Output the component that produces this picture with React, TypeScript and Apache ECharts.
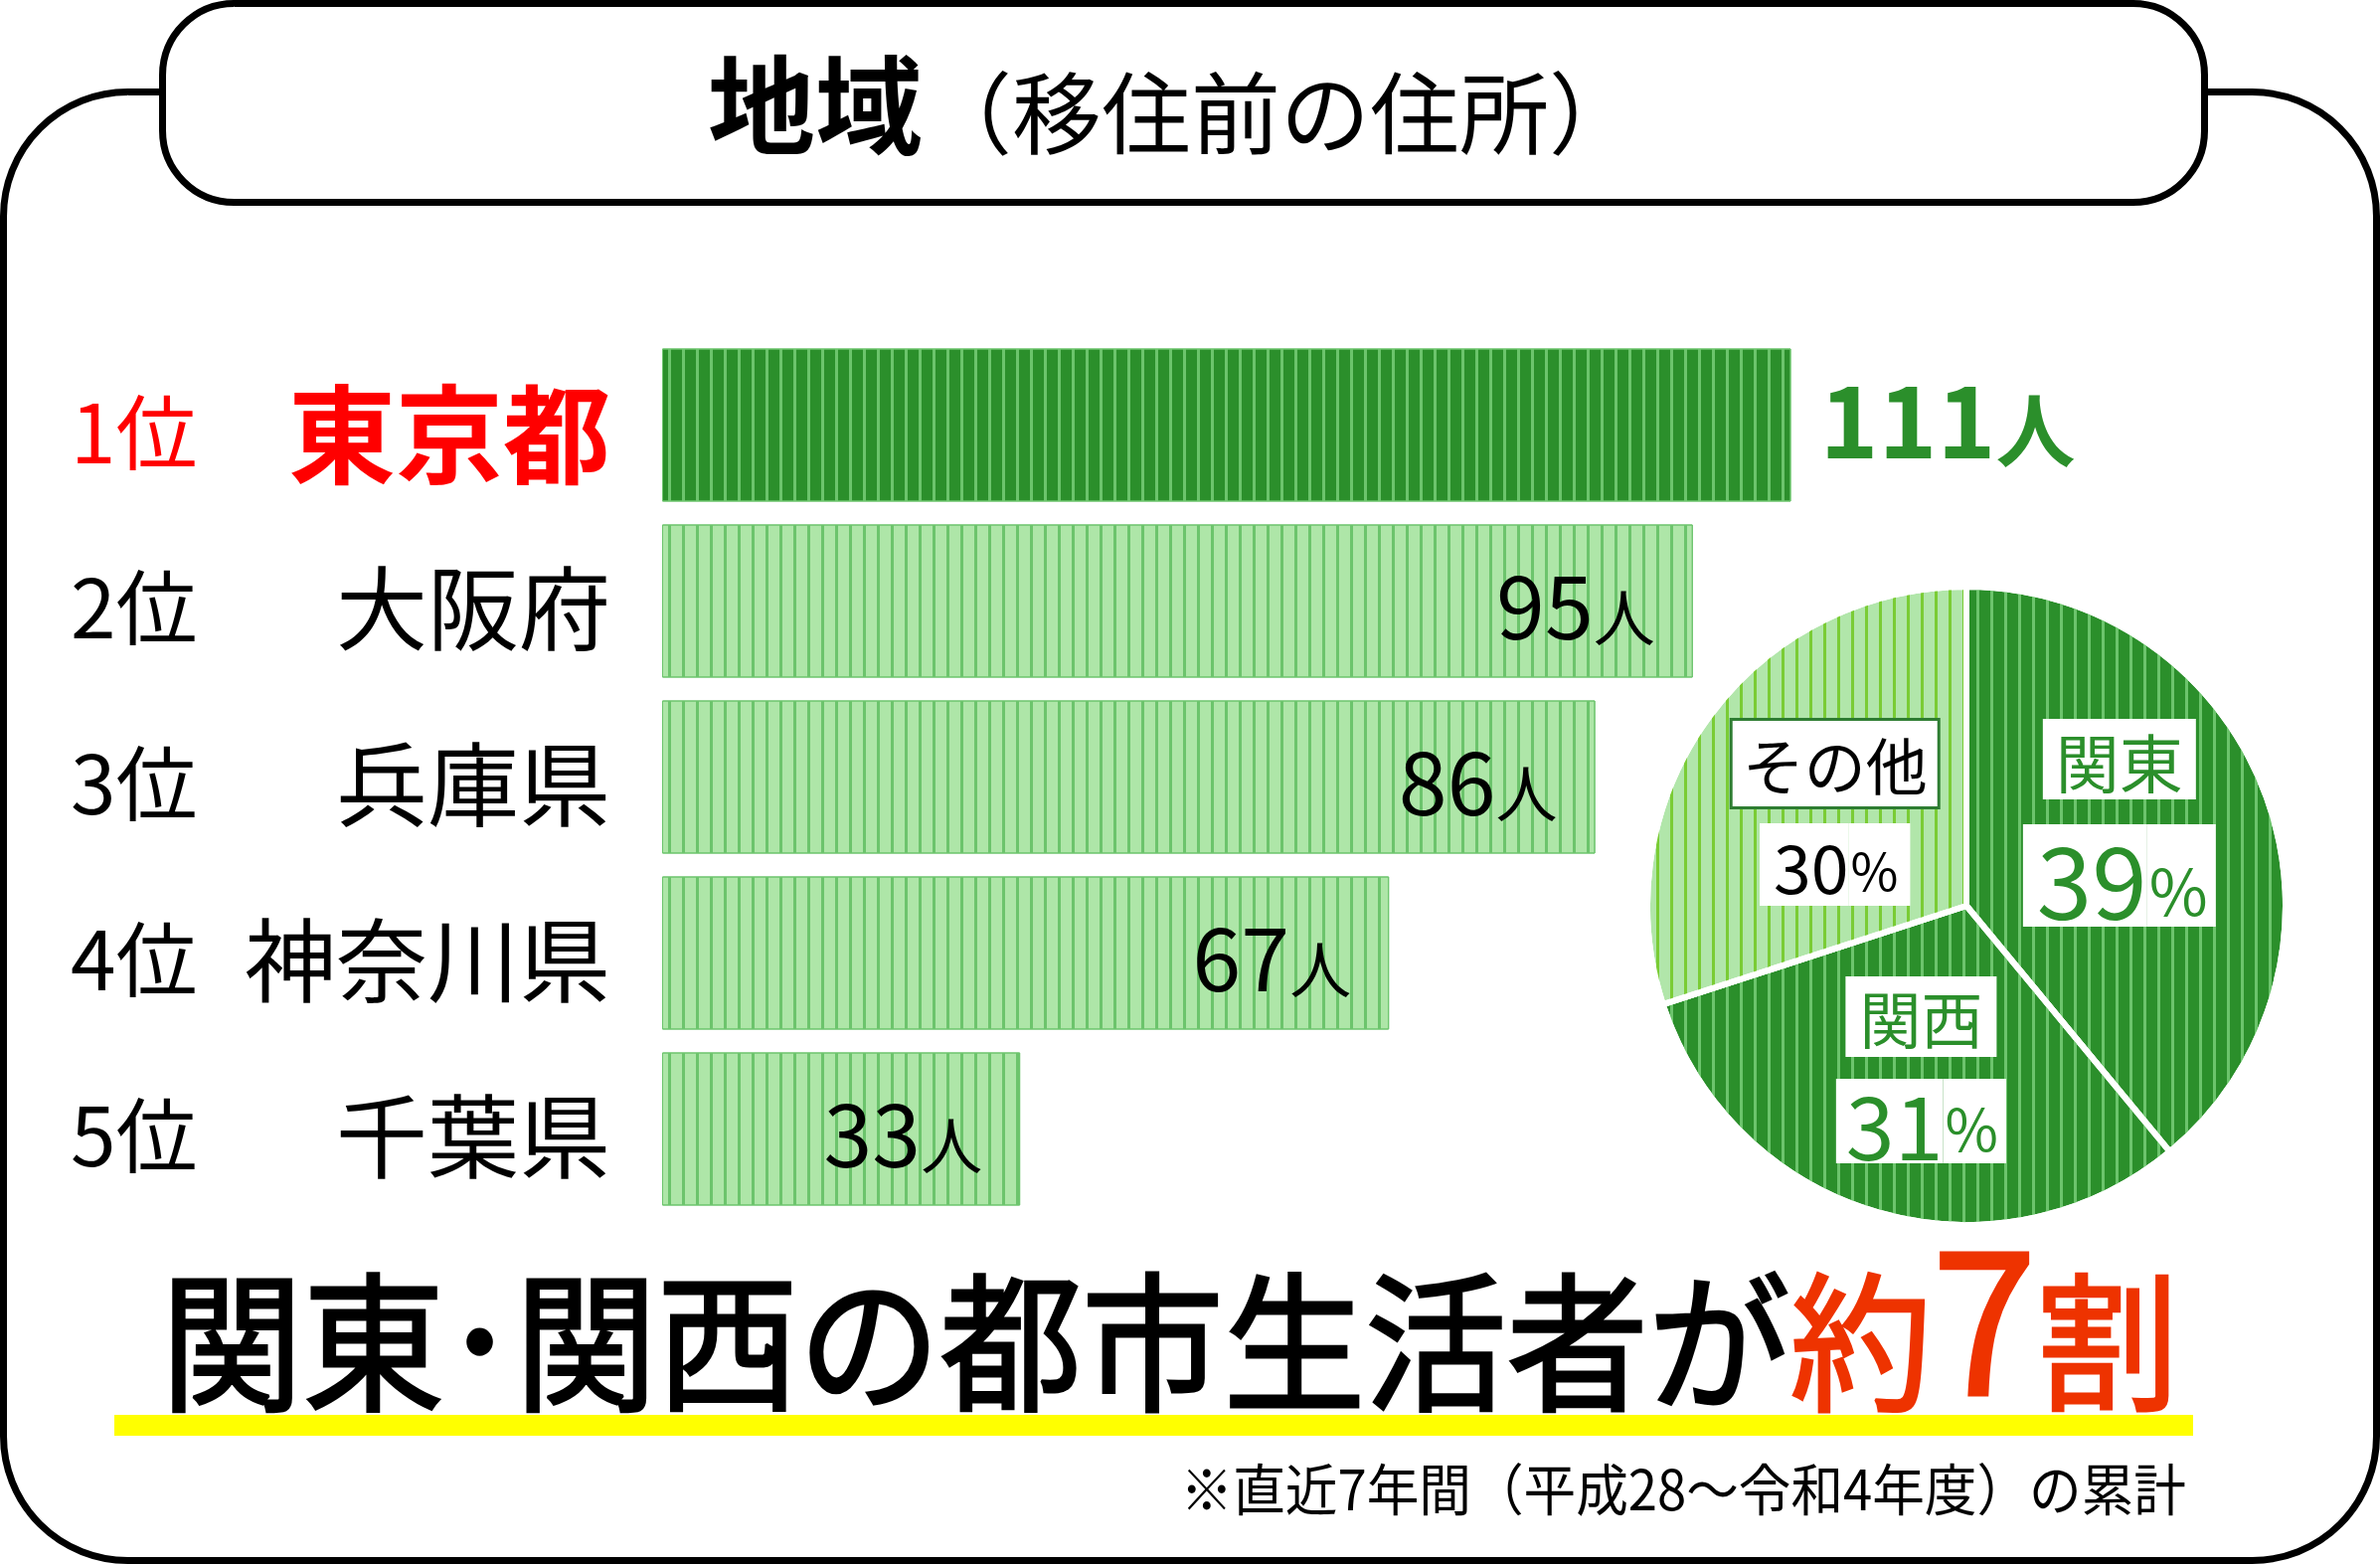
import React, { useEffect, useRef } from 'react';
import * as echarts from 'echarts';

// ---------- data ----------
const RANKS = ['1位', '2位', '3位', '4位', '5位'];
const PREFECTURES = ['東京都', '大阪府', '兵庫県', '神奈川県', '千葉県'];
const MOVERS = [111, 95, 86, 67, 33];
const UNIT = '人';
const AXIS_MAX = 104; // the original draws Tokyo's bar truncated at this scale
const REGIONS = ['関東', '関西', 'その他'];
const REGION_SHARES = [39, 31, 30];
const TITLE_MAIN = '地域';
const TITLE_SUB = '（移住前の住所）';
const HEADLINE_BLACK = '関東･関西の都市生活者が';
const HEADLINE_RED_A = '約';
const HEADLINE_NUMBER = '7';
const HEADLINE_RED_B = '割';
const FOOTNOTE = '※直近7年間（平成28～令和4年度）の累計';

// ---------- styles ----------
const FONT = "'Noto Sans CJK JP', 'Noto Sans', sans-serif";
const DARK = '#2b8f2b';
const DARK_STRIPE = '#6cc46c';
const LIGHT = '#aee6a8';
const LIGHT_STRIPE = '#6cc46c';
const OTHER = '#b1e6aa';
const OTHER_STRIPE = '#7acc35';
const RED = '#ff0000';
const HEAD_RED = '#ee3300';
const PIE_LABEL_DY = [-28, 8, 3];

const stripes = (color: string, w: number) => ({
  symbol: 'rect',
  symbolSize: 1,
  symbolKeepAspect: false,
  color,
  dashArrayX: [w, 14 - w],
  dashArrayY: [14, 0],
  rotation: 0,
});

const darkItem = { color: DARK, borderColor: DARK_STRIPE, borderWidth: 1, decal: stripes(DARK_STRIPE, 3) };
const lightItem = { color: LIGHT, borderColor: LIGHT_STRIPE, borderWidth: 1, decal: stripes(LIGHT_STRIPE, 3) };
const otherItem = { color: OTHER, decal: stripes(OTHER_STRIPE, 3) };
const PIE_ITEMS = [
  { color: DARK, decal: stripes(DARK_STRIPE, 3) },
  { color: DARK, decal: stripes(DARK_STRIPE, 3) },
  otherItem,
];
const PIE_KEYS = ['k', 's', 'o'];

function buildOption() {
  const box = { backgroundColor: '#ffffff', fontFamily: FONT };
  const head = { fontSize: 150, fontFamily: FONT, verticalAlign: 'bottom', lineWidth: 3 };
  return {
    animation: false,
    backgroundColor: '#ffffff',
    textStyle: { fontFamily: FONT },
    grid: { left: 666, top: 339, width: 1135, height: 885, containLabel: false, outerBoundsMode: 'none' },
    xAxis: { type: 'value', min: 0, max: AXIS_MAX, show: false },
    yAxis: {
      type: 'category',
      inverse: true,
      data: PREFECTURES,
      axisLine: { show: false },
      axisTick: { show: false },
      splitLine: { show: false },
      axisLabel: {
        interval: 0,
        margin: 52,
        formatter: (v: string, i: number) =>
          i === 0 ? `{r1|${RANKS[i]}}{n1|${v}}` : `{r|${RANKS[i]}}{n|${v}}`,
        rich: {
          r1: { width: 143, align: 'left', fontSize: 82, color: RED, fontFamily: FONT, padding: [6, 0, 0, 0] },
          n1: { width: 400, align: 'right', fontSize: 108, fontWeight: 'bold', color: RED, fontFamily: FONT, padding: [6, 0, 0, 0] },
          r: { width: 143, align: 'left', fontSize: 82, color: '#000', fontFamily: FONT, padding: [4, 0, 0, 0] },
          n: { width: 400, align: 'right', fontSize: 92, color: '#000', fontFamily: FONT, padding: [4, 0, 0, 0] },
        },
      },
    },
    series: [
      {
        type: 'bar',
        clip: true,
        barCategoryGap: '13%',
        emphasis: { disabled: true },
        data: MOVERS.map((v, i) => ({
          value: v,
          itemStyle: i === 0 ? darkItem : lightItem,
          label: i === 0 ? { position: 'right', distance: 29 } : { position: 'insideRight', distance: 38 },
        })),
        label: {
          show: true,
          formatter: (p: any) =>
            p.dataIndex === 0 ? `{bn|${p.value}}{bu|${UNIT}}` : `{n|${p.value}}{u|${UNIT}}`,
          rich: {
            bn: { fontSize: 100, fontWeight: 'bold', color: DARK, fontFamily: FONT, verticalAlign: 'bottom', padding: [0, 0, 20, 0] },
            bu: { fontSize: 80, fontWeight: 'bold', color: DARK, fontFamily: FONT, verticalAlign: 'bottom', padding: [0, 0, 20, 0] },
            n: { fontSize: 88, color: '#000', fontFamily: FONT, verticalAlign: 'bottom' },
            u: { fontSize: 62, color: '#000', fontFamily: FONT, verticalAlign: 'bottom' },
          },
        },
      },
      {
        type: 'pie',
        center: [1978, 911],
        radius: 321,
        startAngle: 90,
        clockwise: true,
        emphasis: { disabled: true },
        itemStyle: { borderColor: '#ffffff', borderWidth: 6 },
        data: REGIONS.map((name, i) => ({ name, value: REGION_SHARES[i], itemStyle: PIE_ITEMS[i] })),
        labelLine: { show: false },
        labelLayout: (params: any) => ({ dy: PIE_LABEL_DY[params.dataIndex] }),
        label: {
          show: true,
          position: 'inside',
          formatter: (p: any) => {
            const k = PIE_KEYS[p.dataIndex];
            return `{${k}n|${p.name}}\n{${k}p|${p.value}}{${k}s|%}`;
          },
          rich: {
            kn: { ...box, color: DARK, fontSize: 64, padding: [9, 13, 8, 13], verticalAlign: 'top', lineHeight: 106 },
            kp: { ...box, color: DARK, fontSize: 100, height: 100, padding: [2, 0, 1, 14] },
            ks: { ...box, color: DARK, fontSize: 64, height: 76, padding: [26, 8, 1, 2] },
            sn: { ...box, color: DARK, fontSize: 62, padding: [10, 14, 9, 14], verticalAlign: 'top', lineHeight: 103 },
            sp: { ...box, color: DARK, fontSize: 88, height: 80, padding: [3, 0, 2, 10] },
            ss: { ...box, color: DARK, fontSize: 58, height: 70, padding: [13, 8, 2, 2] },
            on: { ...box, color: '#000', fontSize: 62, padding: [12, 10, 12, 10], borderColor: '#2e7d32', borderWidth: 3, verticalAlign: 'top', lineHeight: 103 },
            op: { ...box, color: '#000', fontSize: 68, height: 70, padding: [7, 0, 6, 14] },
            os: { ...box, color: '#000', fontSize: 52, height: 62, padding: [15, 12, 6, 2] },
          },
        },
      },
    ],
    graphic: [
      {
        type: 'rect',
        shape: { x: 3.5, y: 92.5, width: 2387, height: 1477, r: 125 },
        style: { fill: 'none', stroke: '#000', lineWidth: 7 },
      },
      {
        type: 'rect',
        shape: { x: 163.5, y: 3.5, width: 2054, height: 200, r: 72 },
        style: { fill: '#fff', stroke: '#000', lineWidth: 7 },
      },
      {
        type: 'text',
        x: 712,
        y: 154,
        style: {
          text: `{a|${TITLE_MAIN}}{b|${TITLE_SUB}}`,
          align: 'left',
          verticalAlign: 'bottom',
          rich: {
            a: { fontSize: 108, fontWeight: 'bold', fontFamily: FONT, fill: '#000', verticalAlign: 'bottom' },
            b: { fontSize: 90, fontFamily: FONT, fill: '#000', verticalAlign: 'bottom' },
          },
        },
      },
      {
        type: 'rect',
        shape: { x: 115, y: 1423, width: 2091, height: 21 },
        style: { fill: '#ffff00' },
      },
      {
        type: 'text',
        x: 162,
        y: 1416,
        scaleX: 0.95,
        style: {
          text: `{b|${HEADLINE_BLACK}}{r|${HEADLINE_RED_A}}{n|${HEADLINE_NUMBER}}{r|${HEADLINE_RED_B}}`,
          align: 'left',
          verticalAlign: 'bottom',
          rich: {
            b: { ...head, fill: '#000', stroke: '#000' },
            r: { ...head, fill: HEAD_RED, stroke: HEAD_RED },
            n: { ...head, fontSize: 200, fill: HEAD_RED, stroke: HEAD_RED },
          },
        },
      },
      {
        type: 'text',
        x: 2199,
        y: 1495,
        scaleX: 0.94,
        style: {
          text: FOOTNOTE,
          fontSize: 56,
          fontFamily: FONT,
          fill: '#000',
          align: 'right',
          verticalAlign: 'middle',
        },
      },
    ],
  };
}

export default function App() {
  const ref = useRef<HTMLDivElement>(null);
  useEffect(() => {
    if (!ref.current) return;
    const chart = echarts.init(ref.current, null, { renderer: 'svg', width: 2394, height: 1573 });
    chart.setOption(buildOption() as any);
    return () => chart.dispose();
  }, []);
  return (
    <div
      ref={ref}
      style={{ position: 'fixed', left: 0, top: 0, width: 2394, height: 1573, background: '#ffffff' }}
    />
  );
}
